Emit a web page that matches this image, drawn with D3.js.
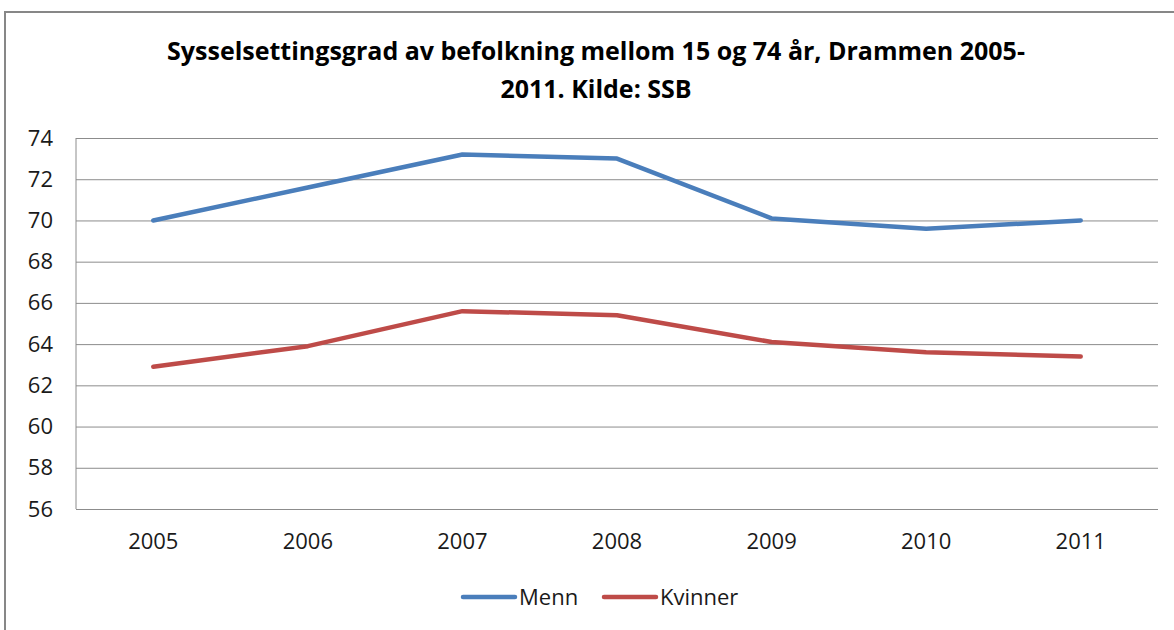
<!DOCTYPE html>
<html>
<head>
<meta charset="utf-8">
<script src="https://cdn.jsdelivr.net/npm/d3@7"></script>
<style>
	body { margin: 0; background: #fff; }
	svg { display: block; }
	.grid line { stroke: #8c8c8c; stroke-width: 1; }
	.grid .domain { display: none; }
	.axis text { font-family: "Open Sans", "DejaVu Sans", sans-serif; font-size: 22px; fill: #1a1a1a; }
	.title { font-family: "Open Sans", sans-serif; font-weight: bold; font-size: 25px; fill: #000; }
	.legend-text { font-family: "Open Sans", "DejaVu Sans", sans-serif; font-size: 22px; fill: #1a1a1a; }
</style>
</head>
<body>
<div id="chart"></div>
<script>
	// data
	let years = ['2005', '2006', '2007', '2008', '2009', '2010', '2011'];
	let menn = [70.0, 71.6, 73.2, 73.0, 70.1, 69.6, 70.0];
	let kvinner = [62.9, 63.9, 65.6, 65.4, 64.1, 63.6, 63.4];
	let yTicks = [56, 58, 60, 62, 64, 66, 68, 70, 72, 74];
	let titleLines = ['Sysselsettingsgrad av befolkning mellom 15 og 74 år, Drammen 2005-', '2011. Kilde: SSB'];

	let series = [
		{ name: 'Menn', values: menn, color: '#4a7ebb' },
		{ name: 'Kvinner', values: kvinner, color: '#be4b48' }
	];

	let width = 1174;
	let height = 630;
	let plot = { left: 76, right: 1158, top: 138, bottom: 509 };

	let svg = d3.select('#chart').append('svg')
		.attr('width', width)
		.attr('height', height);

	// outer chart frame (only left and top edges fall inside the picture)
	svg.append('path')
		.attr('d', 'M5,' + height + 'V12H' + width)
		.attr('fill', 'none')
		.attr('stroke', '#878787')
		.attr('stroke-width', 2);

	// title
	let title = svg.append('text')
		.attr('class', 'title')
		.attr('text-anchor', 'middle');
	title.append('tspan').attr('x', 596).attr('y', 60).text(titleLines[0]);
	title.append('tspan').attr('x', 596).attr('y', 98).text(titleLines[1]);

	/* Scale */
	let xScale = d3.scaleBand()
		.domain(years)
		.range([plot.left, plot.right]);

	let yScale = d3.scaleLinear()
		.domain([56, 74])
		.range([plot.bottom, plot.top]);

	// horizontal gridlines
	svg.append('g')
		.attr('class', 'grid')
		.attr('transform', 'translate(' + plot.left + ',0)')
		.call(d3.axisLeft(yScale)
			.tickValues(yTicks)
			.tickSize(-(plot.right - plot.left))
			.tickFormat(''));

	// vertical axis line
	svg.append('line')
		.attr('x1', plot.left).attr('x2', plot.left)
		.attr('y1', plot.top).attr('y2', plot.bottom)
		.attr('stroke', '#8c8c8c');

	// y labels
	let yAxis = svg.append('g')
		.attr('class', 'axis')
		.attr('transform', 'translate(' + plot.left + ',0)')
		.call(d3.axisLeft(yScale).tickValues(yTicks).tickSize(0).tickPadding(23));
	yAxis.select('.domain').remove();

	// x labels
	let xAxis = svg.append('g')
		.attr('class', 'axis')
		.attr('transform', 'translate(0,' + plot.bottom + ')')
		.call(d3.axisBottom(xScale).tickSize(0).tickPadding(24));
	xAxis.select('.domain').remove();

	/* Lines */
	let line = d3.line()
		.x((d, i) => xScale(years[i]) + xScale.bandwidth() / 2)
		.y(d => yScale(d));

	svg.append('g')
		.attr('class', 'lines')
		.selectAll('path')
		.data(series).enter()
		.append('path')
		.attr('d', d => line(d.values))
		.attr('fill', 'none')
		.attr('stroke', d => d.color)
		.attr('stroke-width', 4.5)
		.attr('stroke-linecap', 'round')
		.attr('stroke-linejoin', 'round');

	/* Legend */
	let legendX = [463, 604];
	let legend = svg.append('g')
		.selectAll('g')
		.data(series).enter()
		.append('g')
		.attr('transform', (d, i) => 'translate(' + legendX[i] + ',597)');
	legend.append('line')
		.attr('x1', 0).attr('x2', 52)
		.attr('y1', 0).attr('y2', 0)
		.attr('stroke', d => d.color)
		.attr('stroke-width', 4.5)
		.attr('stroke-linecap', 'round');
	legend.append('text')
		.attr('class', 'legend-text')
		.attr('x', 56)
		.attr('y', 0)
		.attr('dy', '.35em')
		.text(d => d.name);
</script>
</body>
</html>
